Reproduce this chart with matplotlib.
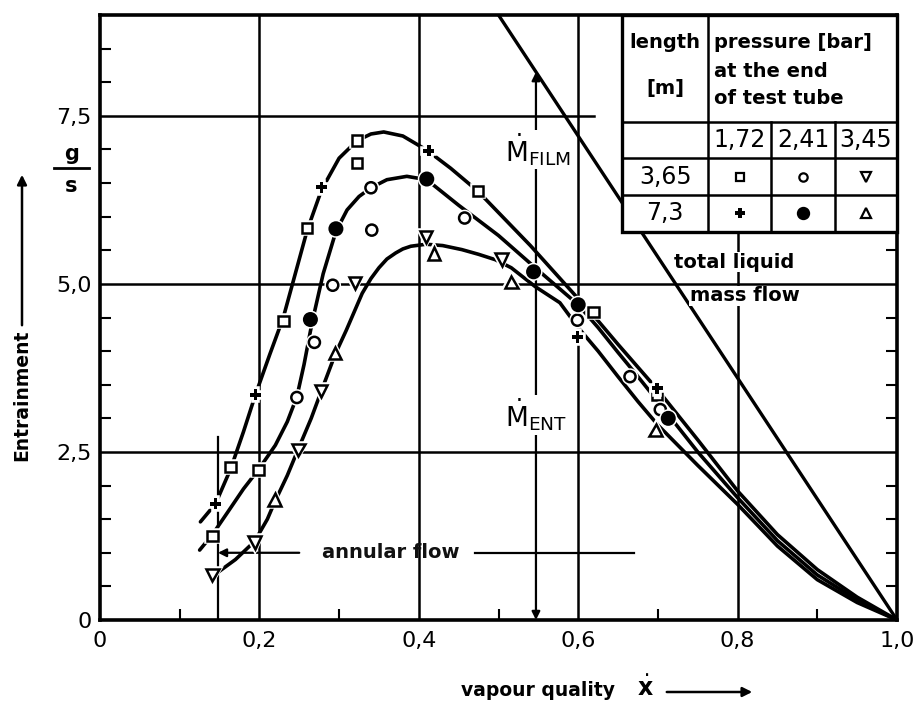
import matplotlib
matplotlib.use("Agg")
import matplotlib.pyplot as plt
import matplotlib.patheffects as pe
from matplotlib.transforms import blended_transform_factory

# measured points, 1.72 bar (square: 3.65 m, plus: 7.3 m)
sq_x = [0.141, 0.164, 0.199, 0.230, 0.260, 0.3225, 0.3225, 0.474, 0.619, 0.699]
sq_y = [1.25, 2.28, 2.23, 4.45, 5.83, 7.13, 6.80, 6.38, 4.58, 3.35]
plus_x = [0.145, 0.195, 0.278, 0.4125, 0.599, 0.699]
plus_y = [1.73, 3.35, 6.44, 6.98, 4.21, 3.45]

# 2.41 bar (open circle: 3.65 m, filled circle: 7.3 m)
circ_x = [0.247, 0.269, 0.292, 0.340, 0.341, 0.4575, 0.599, 0.665, 0.703]
circ_y = [3.31, 4.13, 4.98, 6.43, 5.80, 5.98, 4.46, 3.62, 3.13]
dot_x = [0.264, 0.296, 0.410, 0.544, 0.600, 0.713]
dot_y = [4.47, 5.82, 6.56, 5.18, 4.69, 3.00]

# 3.45 bar (triangle down: 3.65 m, triangle up: 7.3 m)
tdn_x = [0.141, 0.194, 0.249, 0.2775, 0.320, 0.409, 0.504]
tdn_y = [0.67, 1.15, 2.53, 3.41, 5.01, 5.70, 5.36]
tup_x = [0.219, 0.295, 0.419, 0.516, 0.697]
tup_y = [1.79, 3.97, 5.45, 5.03, 2.83]

# hand drawn fit curves
upper_x = [0.126, 0.145, 0.164, 0.18, 0.195, 0.213, 0.23, 0.245, 0.26, 0.278,
           0.30, 0.3225, 0.34, 0.356, 0.38, 0.41, 0.44, 0.474, 0.54, 0.6,
           0.625, 0.65, 0.675, 0.7, 0.75, 0.8, 0.85, 0.9, 0.95, 1.0]
upper_y = [1.46, 1.73, 2.25, 2.8, 3.35, 3.95, 4.5, 5.15, 5.8, 6.4,
           6.87, 7.13, 7.23, 7.26, 7.2, 6.99, 6.72, 6.38, 5.57, 4.78,
           4.45, 4.1, 3.76, 3.42, 2.68, 1.92, 1.27, 0.75, 0.34, 0.0]
middle_x = [0.125, 0.141, 0.16, 0.18, 0.199, 0.22, 0.235, 0.247, 0.256, 0.266,
            0.28, 0.296, 0.31, 0.325, 0.34, 0.36, 0.385, 0.41, 0.45, 0.5,
            0.55, 0.6, 0.625, 0.65, 0.675, 0.7, 0.75, 0.8, 0.85, 0.9, 0.95, 1.0]
middle_y = [1.04, 1.27, 1.6, 1.95, 2.24, 2.6, 2.95, 3.32, 3.8, 4.42,
            5.15, 5.78, 6.1, 6.3, 6.43, 6.55, 6.6, 6.55, 6.17, 5.72,
            5.2, 4.69, 4.35, 3.98, 3.62, 3.25, 2.5, 1.82, 1.18, 0.67, 0.3, 0.0]
lower_x = [0.148, 0.17, 0.194, 0.21, 0.219, 0.235, 0.249, 0.265, 0.2775, 0.295,
           0.309, 0.329, 0.34, 0.35, 0.36, 0.371, 0.38, 0.39, 0.409, 0.43,
           0.454, 0.475, 0.496, 0.516, 0.546, 0.577, 0.6, 0.625, 0.65, 0.675,
           0.7, 0.75, 0.8, 0.85, 0.9, 0.95, 1.0]
lower_y = [0.71, 0.9, 1.17, 1.5, 1.75, 2.15, 2.55, 3.0, 3.4, 3.95,
           4.31, 4.86, 5.08, 5.24, 5.37, 5.46, 5.52, 5.56, 5.59, 5.57,
           5.51, 5.44, 5.36, 5.24, 4.96, 4.72, 4.35, 4.0, 3.62, 3.25,
           2.9, 2.3, 1.72, 1.1, 0.6, 0.26, 0.0]

# total liquid mass flow
total_x = [0.5, 1.0]
total_y = [9.0, 0.0]

x_ticks = [0, 0.2, 0.4, 0.6, 0.8, 1.0]
x_labels = ["0", "0,2", "0,4", "0,6", "0,8", "1,0"]
y_ticks = [0, 2.5, 5.0, 7.5]
y_labels = ["0", "2,5", "5,0", "7,5"]

pressures = ["1,72", "2,41", "3,45"]
lengths = ["3,65", "7,3"]

fig = plt.figure(figsize=(9.18, 7.01), dpi=100)
ax = fig.add_axes([100 / 918, 81 / 701, 797 / 918, 605 / 701])
ax.set_xlim(0, 1.0)
ax.set_ylim(0, 9.0)

for s in ax.spines.values():
    s.set_linewidth(2.6)

# ticks: grid lines stand in for the major ticks
ax.set_xticks(x_ticks, x_labels, fontsize=16)
ax.set_yticks(y_ticks, y_labels, fontsize=16)
ax.set_xticks([0.1, 0.3, 0.5, 0.7, 0.9], minor=True)
ax.set_yticks([v * 0.5 for v in range(1, 18) if v % 5], minor=True)
ax.tick_params(which="major", length=0, pad=8)
ax.tick_params(which="minor", direction="in", length=8, width=1.5,
               right=True)
ax.tick_params(axis="y", which="major", pad=6)

# partial grid lines
gl = dict(color="black", lw=1.8, zorder=1)
ax.axvline(0.2, **gl)
ax.axvline(0.4, **gl)
ax.axvline(0.6, **gl)
ax.axvline(0.8, ymax=0.64, **gl)
ax.axhline(2.5, **gl)
ax.axhline(5.0, **gl)
ax.axhline(7.5, xmax=0.62, **gl)

# annular flow boundary
ax.plot([0.148, 0.148], [0, 2.72], color="black", lw=1.6, zorder=1)
ax.annotate("", xy=(0.148, 1.0), xytext=(0.25, 1.0),
            arrowprops=dict(arrowstyle="-|>", color="black", lw=1.6,
                            mutation_scale=12, shrinkA=0, shrinkB=0))
ax.plot([0.47, 0.67], [1.0, 1.0], color="black", lw=1.6, zorder=1)
ax.text(0.365, 1.0, "annular flow", fontsize=14, ha="center", va="center",
        fontweight="bold", color="#111111")

# total liquid mass flow line
ax.plot(total_x, total_y, color="black", lw=2.4, zorder=2)

# fit curves
ck = dict(color="black", lw=2.6, zorder=2, solid_capstyle="round",
          solid_joinstyle="round")
ax.plot(upper_x, upper_y, **ck)
ax.plot(middle_x, middle_y, **ck)
ax.plot(lower_x, lower_y, **ck)

# measurement markers with a white halo (the curves break around them)
halo = [pe.withStroke(linewidth=4, foreground="white")]
mk = dict(linestyle="none", color="black", zorder=3, path_effects=halo,
          markeredgewidth=1.8)
ax.plot(sq_x, sq_y, marker="s", markersize=7.5, markerfacecolor="white", **mk)
ax.plot(plus_x, plus_y, marker="P", markersize=8, markeredgewidth=0,
        linestyle="none", color="black", zorder=3, path_effects=halo)
ax.plot(circ_x, circ_y, marker="o", markersize=8, markerfacecolor="white", **mk)
ax.plot(dot_x, dot_y, marker="o", markersize=9, markerfacecolor="black", **mk)
ax.plot(tdn_x, tdn_y, marker="v", markersize=9, markerfacecolor="white", **mk)
ax.plot(tup_x, tup_y, marker="^", markersize=9, markerfacecolor="white", **mk)

# film / entrained mass flow arrow at x = 0.547
ax.annotate("", xy=(0.547, 8.15), xytext=(0.547, 0.0),
            arrowprops=dict(arrowstyle="<|-|>", color="black", lw=1.6,
                            mutation_scale=12, shrinkA=0, shrinkB=0),
            zorder=1)
wb = dict(facecolor="white", edgecolor="none", pad=1)
ax.text(0.508, 7.0, r"$\dot{\mathrm{M}}_{\mathrm{FILM}}$", fontsize=19,
        ha="left", va="center", bbox=wb, zorder=4)
ax.text(0.508, 3.05, r"$\dot{\mathrm{M}}_{\mathrm{ENT}}$", fontsize=19,
        ha="left", va="center", bbox=wb, zorder=4)

# total liquid mass flow label
lb = dict(facecolor="white", edgecolor="none", pad=0.3)
ax.text(0.72, 5.32, "total liquid", fontsize=14, fontweight="bold",
        ha="left", va="center", bbox=lb, zorder=4)
ax.text(0.74, 4.82, "mass flow", fontsize=14, fontweight="bold",
        ha="left", va="center", bbox=lb, zorder=4)

# legend table in the upper right corner
ta = ax.transAxes
cols = [0.655, 0.763, 0.842, 0.922, 1.0]
rows = [1.0, 0.823, 0.764, 0.702, 0.641]
ax.add_patch(plt.Rectangle((cols[0], rows[-1]), cols[-1] - cols[0],
                           rows[0] - rows[-1], transform=ta,
                           facecolor="white", edgecolor="black", lw=2.4,
                           zorder=5, clip_on=False))
tl = dict(color="black", lw=1.8, transform=ta, zorder=6, clip_on=False)
ax.plot([cols[1], cols[1]], [rows[0], rows[-1]], **tl)
for c in cols[2:4]:
    ax.plot([c, c], [rows[1], rows[-1]], **tl)
for r in rows[1:4]:
    ax.plot([cols[0], cols[-1]], [r, r], **tl)

hd = dict(fontsize=14, fontweight="bold", transform=ta, zorder=7,
          va="center")
ax.text(0.709, 0.954, "length", ha="center", **hd)
ax.text(0.709, 0.879, "[m]", ha="center", **hd)
ax.text(0.771, 0.954, "pressure [bar]", ha="left", **hd)
ax.text(0.771, 0.906, "at the end", ha="left", **hd)
ax.text(0.771, 0.862, "of test tube", ha="left", **hd)

centers = [(cols[i] + cols[i + 1]) / 2 for i in range(1, 4)]
num = dict(fontsize=17, transform=ta, zorder=7, ha="center", va="center")
for c, p in zip(centers, pressures):
    ax.text(c, 0.793, p, **num)
ax.text(0.709, 0.733, lengths[0], **num)
ax.text(0.709, 0.672, lengths[1], **num)

tm = dict(transform=ta, zorder=7, clip_on=False, linestyle="none",
          color="black", markeredgewidth=1.6)
ax.plot(centers[0], 0.733, marker="s", markersize=6, markerfacecolor="white", **tm)
ax.plot(centers[1], 0.733, marker="o", markersize=6, markerfacecolor="white", **tm)
ax.plot(centers[2], 0.733, marker="v", markersize=7, markerfacecolor="white", **tm)
ax.plot(centers[0], 0.672, marker="P", markersize=7, markeredgewidth=0,
        transform=ta, zorder=7, clip_on=False, linestyle="none", color="black")
ax.plot(centers[1], 0.672, marker="o", markersize=8, markerfacecolor="black", **tm)
ax.plot(centers[2], 0.672, marker="^", markersize=7, markerfacecolor="white", **tm)

# unit g/s beside the y axis
bt = blended_transform_factory(ax.transAxes, ax.transData)
ax.text(-0.036, 6.93, "g", fontsize=15, fontweight="bold", ha="center",
        va="center", transform=bt)
ax.text(-0.036, 6.45, "s", fontsize=15, fontweight="bold", ha="center",
        va="center", transform=bt)
ax.plot([-0.058, -0.014], [6.72, 6.72], color="black", lw=2, transform=bt,
        clip_on=False)

# axis titles with arrows
fig.text(22 / 918, 1 - 395 / 701, "Entrainment", rotation=90, fontsize=13.5,
         fontweight="bold", ha="center", va="center")
fig.patches.append(matplotlib.patches.FancyArrowPatch(
    (22 / 918, 1 - 328 / 701), (22 / 918, 1 - 172 / 701),
    transform=fig.transFigure, arrowstyle="-|>", mutation_scale=14,
    color="black", lw=1.8))
fig.text(538 / 918, 1 - 690 / 701, "vapour quality", fontsize=13.5,
         fontweight="bold", ha="center", va="center")
fig.text(645 / 918, 1 - 688 / 701, r"$\dot{\mathbf{x}}$", fontsize=17,
         ha="center", va="center")
fig.patches.append(matplotlib.patches.FancyArrowPatch(
    (664 / 918, 1 - 692 / 701), (755 / 918, 1 - 692 / 701),
    transform=fig.transFigure, arrowstyle="-|>", mutation_scale=14,
    color="black", lw=1.8))

fig.savefig("out.png", dpi=100)
